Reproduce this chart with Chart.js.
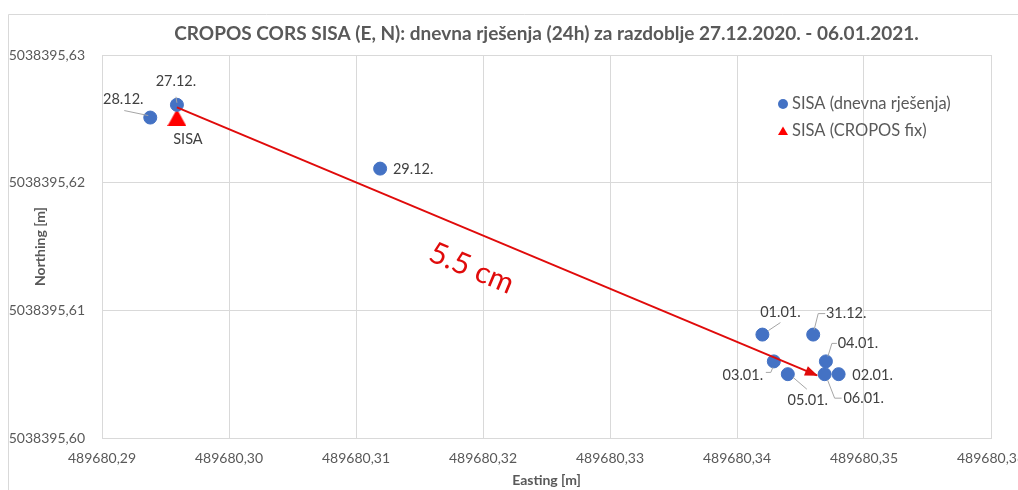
<!DOCTYPE html>
<html><head><meta charset="utf-8">
<script src="https://cdn.jsdelivr.net/npm/chart.js@4.4.1/dist/chart.umd.min.js"></script>
<style>html,body{margin:0;padding:0;background:#fff;overflow:hidden;width:1018px;height:490px}canvas{display:block}</style>
</head><body>
<canvas id="c" width="1040" height="490"></canvas>
<script>
// ---------- data ----------
const chartTitle = 'CROPOS CORS SISA (E, N): dnevna rješenja (24h) za razdoblje 27.12.2020. - 06.01.2021.';
const xAxisTitle = 'Easting [m]';
const yAxisTitle = 'Northing [m]';
const dailyName = 'SISA (dnevna rješenja)';
const fixName = 'SISA (CROPOS fix)';
const dayLabels = ['27.12.','28.12.','29.12.','31.12.','01.01.','02.01.','03.01.','04.01.','05.01.','06.01.'];
const dailyEasting = [489680.2959, 489680.2938, 489680.3119, 489680.3460, 489680.3420, 489680.3480, 489680.3429, 489680.3470, 489680.3440, 489680.3469];
const dailyNorthing = [5038395.6261, 5038395.6251, 5038395.6211, 5038395.6081, 5038395.6081, 5038395.6050, 5038395.6060, 5038395.6060, 5038395.6050, 5038395.6050];
const fixLabels = ['SISA'];
const fixEasting = [489680.2959];
const fixNorthing = [5038395.6251];
const arrowEasting = [489680.2959, 489680.3463];
const arrowNorthing = [5038395.6259, 5038395.6049];
const shiftText = '5.5 cm';
const shiftTextEasting = [489680.3191];
const shiftTextNorthing = [5038395.6133];
const xTickValues = [489680.29, 489680.30, 489680.31, 489680.32, 489680.33, 489680.34, 489680.35, 489680.36];
const xTickLabels = ['489680,29','489680,30','489680,31','489680,32','489680,33','489680,34','489680,35','489680,36'];
const yTickValues = [5038395.60, 5038395.61, 5038395.62, 5038395.63];
const yTickLabels = ['5038395,60','5038395,61','5038395,62','5038395,63'];

// ---------- styles / label layout ----------
const FONT = 'Lato';
const blue = '#4472C4';
const red = '#FF0000';
const arrowRed = '#E00B0B';
const textGrey = '#595959';
const labelGrey = '#404040';
const leaderGrey = '#A6A6A6';
const gridGrey = '#D9D9D9';
const labelLayout = {
  '27.12.': {dx: -1, dy: -23, leader: [[-1,-8],[0,-2]]},
  '28.12.': {dx: -27, dy: -18, leader: [[-26,-7],[-2,-2]]},
  '29.12.': {dx: 33, dy: 1},
  '31.12.': {dx: 33, dy: -21, leader: [[12,-21],[5,-21],[1,-5]]},
  '01.01.': {dx: 18, dy: -22, leader: [[18,-12],[6,-4]]},
  '02.01.': {dx: 34, dy: 1},
  '03.01.': {dx: -31, dy: 14, leader: [[-8,11],[-3,11],[-1,6]]},
  '04.01.': {dx: 32, dy: -18, leader: [[11,-18],[6,-18],[2,-5]]},
  '05.01.': {dx: 20, dy: 26, leader: [[19,15],[5,3]]},
  '06.01.': {dx: 39, dy: 24, leader: [[17,24],[10,24],[3,6]]},
  'SISA':   {dx: 11, dy: 22}
};

function makeTriangle(w, h, color) {
  const c = document.createElement('canvas');
  c.width = w; c.height = h;
  const g = c.getContext('2d');
  g.fillStyle = color;
  g.beginPath(); g.moveTo(w / 2, 0); g.lineTo(w, h); g.lineTo(0, h); g.closePath(); g.fill();
  return c;
}
const fixMarker = makeTriangle(19, 17, red);

const annotate = {
  id: 'annotate',
  beforeDraw(chart) {
    const ctx = chart.ctx;
    ctx.save();
    ctx.fillStyle = '#fff';
    ctx.fillRect(0, 0, chart.width, chart.height);
    ctx.strokeStyle = gridGrey; ctx.lineWidth = 1;
    ctx.beginPath(); ctx.moveTo(8.5, chart.height); ctx.lineTo(8.5, 14.5); ctx.lineTo(chart.width, 14.5); ctx.stroke();
    ctx.restore();
  },
  afterDatasetsDraw(chart) {
    const ctx = chart.ctx;
    const xs = chart.scales.x, ys = chart.scales.y;
    // arrow head
    const am = chart.getDatasetMeta(2).data;
    const p0 = am[0], p1 = am[am.length - 1];
    const ang = Math.atan2(p1.y - p0.y, p1.x - p0.x);
    ctx.save();
    ctx.translate(p1.x, p1.y); ctx.rotate(ang);
    ctx.fillStyle = arrowRed;
    ctx.beginPath(); ctx.moveTo(1, 0); ctx.lineTo(-12, -5); ctx.lineTo(-12, 5); ctx.closePath(); ctx.fill();
    ctx.restore();
    // distance text
    ctx.save();
    ctx.translate(xs.getPixelForValue(shiftTextEasting[0]), ys.getPixelForValue(shiftTextNorthing[0]));
    ctx.rotate(ang);
    ctx.fillStyle = arrowRed;
    ctx.font = '30px ' + FONT;
    ctx.textAlign = 'center'; ctx.textBaseline = 'middle';
    ctx.fillText(shiftText, 0, 0);
    ctx.restore();
    // data labels
    const drawLabels = (dsIndex, names) => {
      const meta = chart.getDatasetMeta(dsIndex);
      meta.data.forEach((pt, i) => {
        const name = names[i];
        const L = labelLayout[name];
        if (!L) return;
        ctx.save();
        if (L.leader) {
          ctx.strokeStyle = leaderGrey; ctx.lineWidth = 1;
          ctx.beginPath();
          L.leader.forEach((q, k) => {
            const X = pt.x + q[0], Y = pt.y + q[1];
            if (k === 0) ctx.moveTo(X, Y); else ctx.lineTo(X, Y);
          });
          ctx.stroke();
        }
        ctx.fillStyle = labelGrey;
        ctx.font = '14.5px ' + FONT;
        ctx.textAlign = 'center'; ctx.textBaseline = 'middle';
        ctx.fillText(name, pt.x + L.dx, pt.y + L.dy);
        ctx.restore();
      });
    };
    drawLabels(0, dayLabels);
    drawLabels(1, fixLabels);
  },
  afterDraw(chart) {
    const ctx = chart.ctx;
    const ca = chart.chartArea;
    const x0 = ca.right - 208, y0 = ca.top + 49, gap = 27;
    ctx.save();
    ctx.font = '16.5px ' + FONT;
    ctx.textAlign = 'left'; ctx.textBaseline = 'middle';
    chart.data.datasets.forEach((ds, i) => {
      if (ds.hideInLegend) return;
      const y = y0 + i * gap;
      if (ds.pointStyle === 'circle') {
        ctx.fillStyle = ds.backgroundColor;
        ctx.beginPath(); ctx.arc(x0, y, 5, 0, Math.PI * 2); ctx.fill();
      } else {
        ctx.fillStyle = red;
        ctx.beginPath(); ctx.moveTo(x0, y - 4.5); ctx.lineTo(x0 + 5, y + 4); ctx.lineTo(x0 - 5, y + 4); ctx.closePath(); ctx.fill();
      }
      ctx.fillStyle = textGrey;
      ctx.fillText(ds.label, x0 + 9, y);
    });
    ctx.restore();
  }
};

const toPts = (xa, ya) => xa.map((v, i) => ({x: v, y: ya[i]}));

new Chart(document.getElementById('c'), {
  type: 'scatter',
  data: {
    datasets: [
      {label: dailyName, data: toPts(dailyEasting, dailyNorthing), pointStyle: 'circle', pointRadius: 6.5, pointHoverRadius: 6.5,
       backgroundColor: blue, borderColor: blue, borderWidth: 1, order: 1},
      {label: fixName, data: toPts(fixEasting, fixNorthing), pointStyle: fixMarker, pointRadius: 9, pointHoverRadius: 9,
       backgroundColor: red, borderColor: red, order: 2},
      {label: 'arrow', hideInLegend: true, type: 'line', data: toPts(arrowEasting, arrowNorthing), showLine: true,
       borderColor: arrowRed, borderWidth: 2, pointRadius: 0, pointHoverRadius: 0, fill: false, order: 0}
    ]
  },
  options: {
    responsive: false,
    animation: false,
    events: [],
    layout: {padding: {left: 0, right: 49, top: 0, bottom: 0}},
    plugins: {
      legend: {display: false},
      tooltip: {enabled: false},
      title: {display: true, text: chartTitle, fullSize: false, color: textGrey,
              font: {family: FONT, size: 19, weight: 'bold', lineHeight: 1.2}, padding: {top: 22.6, bottom: 9.6}}
    },
    scales: {
      x: {type: 'linear', min: xTickValues[0], max: xTickValues[xTickValues.length - 1],
          afterBuildTicks: s => { s.ticks = xTickValues.map(v => ({value: v})); },
          afterFit: s => { s.height = 52; },
          ticks: {callback: (v, i) => xTickLabels[i], color: textGrey, font: {family: FONT, size: 14}, padding: 12, maxRotation: 0, autoSkip: false},
          grid: {color: gridGrey, drawTicks: false},
          border: {display: true, color: gridGrey},
          title: {display: true, text: xAxisTitle, color: textGrey, font: {family: FONT, size: 14, weight: 'bold', lineHeight: 1.2}, padding: {top: 0, bottom: 1}}
      },
      y: {type: 'linear', min: yTickValues[0], max: yTickValues[yTickValues.length - 1],
          afterBuildTicks: s => { s.ticks = yTickValues.map(v => ({value: v})); },
          afterFit: s => { s.width = 102; },
          ticks: {callback: (v, i) => yTickLabels[i], color: textGrey, font: {family: FONT, size: 14}, padding: 17, autoSkip: false},
          grid: {color: gridGrey, drawTicks: false},
          border: {display: true, color: gridGrey},
          title: {display: true, text: yAxisTitle, color: textGrey, font: {family: FONT, size: 14, weight: 'bold', lineHeight: 1.2}, padding: {top: 32, bottom: 0}}
      }
    }
  },
  plugins: [annotate]
});
</script>
</body></html>
